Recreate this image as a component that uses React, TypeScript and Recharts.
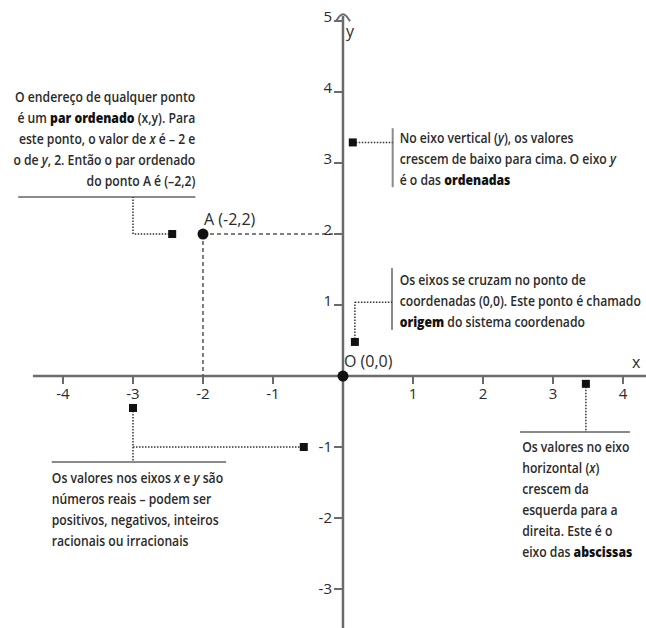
import React from 'react'
import {
  ScatterChart,
  Scatter,
  XAxis,
  YAxis,
  ReferenceLine,
} from 'recharts'

// plano cartesiano com anotações
const xDomain = [-4.9, 4.329]
const yDomain = [-3.549, 5.296]

const xTicks = [-4, -3, -2, -1, 1, 2, 3, 4]
const yTicks = [-3, -2, -1, 1, 2, 3, 4, 5]

const namedPoints = [
  { x: 0, y: 0, label: 'O (0,0)' },
  { x: -2, y: 2, label: 'A (-2,2)' },
]

const markers = [
  { x: -2.44, y: 2 },
  { x: 0.14, y: 3.29 },
  { x: 0.17, y: 0.48 },
  { x: 3.47, y: -0.11 },
  { x: -3.0, y: -0.45 },
  { x: -0.56, y: -1 },
]

// tracejado do ponto A até os eixos
const guides = [
  [{ x: -2, y: 2 }, { x: 0, y: 2 }],
  [{ x: -2, y: 2 }, { x: -2, y: 0 }],
]

// linhas pontilhadas ligando marcadores aos textos
const leaders = [
  [{ x: -2.44, y: 2 }, { x: -3.0, y: 2 }, { x: -3.0, y: 2.52 }],
  [{ x: 0.14, y: 3.29 }, { x: 0.71, y: 3.29 }],
  [{ x: 0.17, y: 0.48 }, { x: 0.17, y: 1.04 }, { x: 0.7, y: 1.04 }],
  [{ x: 3.47, y: -0.11 }, { x: 3.47, y: -0.79 }],
  [{ x: -3.0, y: -0.45 }, { x: -3.0, y: -1.21 }],
  [{ x: -3.0, y: -1 }, { x: -0.56, y: -1 }],
]

const rules = [
  [{ x: -4.64, y: 2.52 }, { x: -2.11, y: 2.52 }],
  [{ x: 0.71, y: 3.49 }, { x: 0.71, y: 2.66 }],
  [{ x: 0.7, y: 1.52 }, { x: 0.7, y: 0.65 }],
  [{ x: 2.53, y: -0.79 }, { x: 4.1, y: -0.79 }],
  [{ x: -4.16, y: -1.21 }, { x: -1.67, y: -1.21 }],
]

type Seg = { t: string; b?: boolean; i?: boolean }

const notes: { x: number; y: number; anchor: string; lines: Seg[][] }[] = [
  {
    x: -2.11,
    y: 3.86,
    anchor: 'end',
    lines: [
      [{ t: 'O endereço de qualquer ponto' }],
      [{ t: 'é um ' }, { t: 'par ordenado', b: true }, { t: ' (x,y). Para' }],
      [{ t: 'este ponto, o valor de ' }, { t: 'x', i: true }, { t: ' é – 2 e' }],
      [{ t: 'o de ' }, { t: 'y', i: true }, { t: ', 2. Então o par ordenado' }],
      [{ t: 'do ponto A é (–2,2)' }],
    ],
  },
  {
    x: 0.81,
    y: 3.28,
    anchor: 'start',
    lines: [
      [{ t: 'No eixo vertical (' }, { t: 'y', i: true }, { t: '), os valores' }],
      [{ t: 'crescem de baixo para cima. O eixo ' }, { t: 'y', i: true }],
      [{ t: 'é o das ' }, { t: 'ordenadas', b: true }],
    ],
  },
  {
    x: 0.81,
    y: 1.28,
    anchor: 'start',
    lines: [
      [{ t: 'Os eixos se cruzam no ponto de' }],
      [{ t: 'coordenadas (0,0). Este ponto é chamado' }],
      [{ t: 'origem', b: true }, { t: ' do sistema coordenado' }],
    ],
  },
  {
    x: 2.56,
    y: -1.07,
    anchor: 'start',
    lines: [
      [{ t: 'Os valores no eixo' }],
      [{ t: 'horizontal (' }, { t: 'x', i: true }, { t: ')' }],
      [{ t: 'crescem da' }],
      [{ t: 'esquerda para a' }],
      [{ t: 'direita. Este é o' }],
      [{ t: 'eixo das ' }, { t: 'abscissas', b: true }],
    ],
  },
  {
    x: -4.16,
    y: -1.51,
    anchor: 'start',
    lines: [
      [{ t: 'Os valores nos eixos ' }, { t: 'x', i: true }, { t: ' e ' }, { t: 'y', i: true }, { t: ' são' }],
      [{ t: 'números reais – podem ser' }],
      [{ t: 'positivos, negativos, inteiros' }],
      [{ t: 'racionais ou irracionais' }],
    ],
  },
]

const axisNames = [
  { x: 4.19, y: 0.11, label: 'x' },
  { x: 0.1, y: 4.77, label: 'y' },
]

const axisArrow = [{ x: 0, y: 5.08 }]

const FONT = '"Open Sans", "Noto Sans", sans-serif'
const TEXT = '#2b2b2b'
const AXIS = '#6b6b6b'

const XTick = (props: any) => {
  const { cx, cy, payload } = props
  return (
    <g>
      <line x1={cx} y1={cy} x2={cx} y2={cy + 8} stroke={AXIS} strokeWidth={2} />
      <text x={cx} y={cy + 23} textAnchor="middle" fontFamily={FONT} fontSize={15} fill={TEXT}>
        {payload.x}
      </text>
    </g>
  )
}

const YTick = (props: any) => {
  const { cx, cy, payload } = props
  const dy = payload.y > 0 ? 1 : 5
  return (
    <g>
      <line x1={cx - 9} y1={cy} x2={cx} y2={cy} stroke={AXIS} strokeWidth={2} />
      <text x={cx - 11} y={cy + dy} textAnchor="end" fontFamily={FONT} fontSize={15} fill={TEXT}>
        {payload.y}
      </text>
    </g>
  )
}

const PointDot = (props: any) => {
  const { cx, cy, payload } = props
  return (
    <g>
      <circle cx={cx} cy={cy} r={5.5} fill="#111" />
      <text x={cx + 1} y={cy - 9} fontFamily={FONT} fontSize={16} fill={TEXT}>
        {payload.label}
      </text>
    </g>
  )
}

const Square = (props: any) => {
  const { cx, cy } = props
  return <rect x={cx - 4} y={cy - 4} width={8} height={8} fill="#111" />
}

const Arrow = (props: any) => {
  const { cx, cy } = props
  return (
    <path
      d={`M${cx - 7},${cy + 6} Q${cx - 3},${cy - 1} ${cx},${cy - 1} Q${cx + 3},${cy - 1} ${cx + 7},${cy + 6}`}
      fill="none"
      stroke={AXIS}
      strokeWidth={2}
    />
  )
}

const AxisName = (props: any) => {
  const { cx, cy, payload } = props
  return (
    <text x={cx} y={cy} textAnchor="middle" fontFamily={FONT} fontSize={16} fill={TEXT}>
      {payload.label}
    </text>
  )
}

// texto condensado: a fonte original é estreita
const Note = (props: any) => {
  const { cx, cy, payload } = props
  return (
    <g transform={`translate(${cx},${cy}) scale(0.87,1)`}>
      <text x={0} y={0} textAnchor={payload.anchor} fontFamily={FONT} fontSize={14} fontWeight={600} fill={TEXT}>
        {payload.lines.map((line: Seg[], i: number) => (
          <tspan key={i} x={0} dy={i === 0 ? 0 : 21}>
            {line.map((s, j) => (
              <tspan
                key={j}
                fontWeight={s.b ? 800 : undefined}
                fontStyle={s.i ? 'italic' : undefined}
                fill={s.b ? '#111' : undefined}
              >
                {s.t}
              </tspan>
            ))}
          </tspan>
        ))}
      </text>
    </g>
  )
}

function pieces(path: { x: number; y: number }[]) {
  const out: { x: number; y: number }[][] = []
  for (let i = 1; i < path.length; i++) out.push([path[i - 1], path[i]])
  return out
}

export default function App() {
  return (
    <div style={{ position: 'absolute', left: 0, top: 0, background: '#fff' }}>
      <ScatterChart width={646} height={628} margin={{ top: 0, right: 0, bottom: 0, left: 0 }}>
        <XAxis type="number" dataKey="x" domain={xDomain} hide allowDataOverflow />
        <YAxis type="number" dataKey="y" domain={yDomain} hide allowDataOverflow />

        {/* eixos */}
        <ReferenceLine
          segment={[{ x: -4.43, y: 0 }, { x: xDomain[1], y: 0 }]}
          stroke={AXIS}
          strokeWidth={2.5}
          ifOverflow="visible"
        />
        <ReferenceLine
          segment={[{ x: 0, y: yDomain[0] }, { x: 0, y: 5.07 }]}
          stroke={AXIS}
          strokeWidth={2.5}
          ifOverflow="visible"
        />

        {rules.map((r, i) => (
          <ReferenceLine key={'r' + i} segment={r} stroke="#8a8a8a" strokeWidth={2} ifOverflow="visible" />
        ))}

        {guides.map((g, i) => (
          <ReferenceLine
            key={'g' + i}
            segment={g}
            stroke="#555"
            strokeWidth={1.5}
            strokeDasharray="4 3"
            ifOverflow="visible"
          />
        ))}

        {leaders.flatMap((l, i) =>
          pieces(l).map((p, j) => (
            <ReferenceLine
              key={'l' + i + '-' + j}
              segment={p}
              stroke="#333"
              strokeWidth={1.5}
              strokeDasharray="1.5 1.5"
              ifOverflow="visible"
            />
          ))
        )}

        <Scatter data={xTicks.map((v) => ({ x: v, y: 0 }))} shape={XTick} isAnimationActive={false} />
        <Scatter data={yTicks.map((v) => ({ x: 0, y: v }))} shape={YTick} isAnimationActive={false} />
        <Scatter data={axisArrow} shape={Arrow} isAnimationActive={false} />
        <Scatter data={axisNames} shape={AxisName} isAnimationActive={false} />
        <Scatter data={markers} shape={Square} isAnimationActive={false} />
        <Scatter data={namedPoints} shape={PointDot} isAnimationActive={false} />
        <Scatter data={notes} shape={Note} isAnimationActive={false} />
      </ScatterChart>
    </div>
  )
}
